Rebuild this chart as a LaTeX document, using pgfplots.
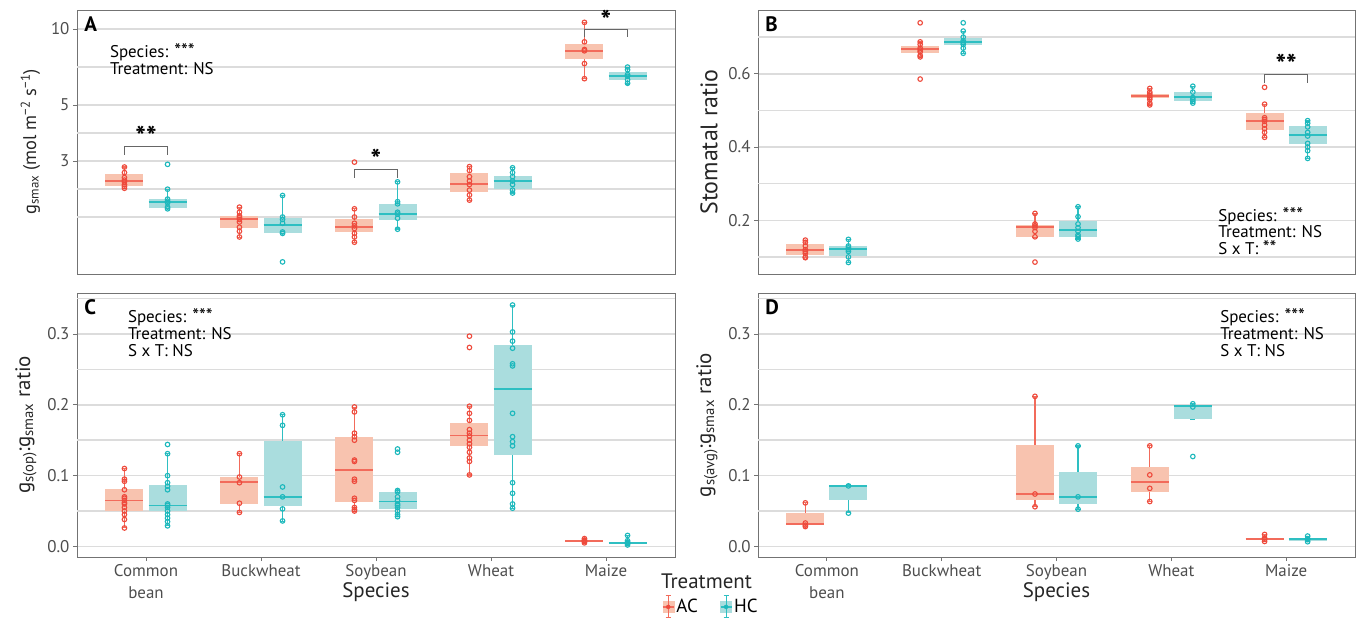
\documentclass[border=0pt]{standalone}
\usepackage{fontspec}
\setmainfont{PT Sans}
\usepackage{pgfplots}
\pgfplotsset{compat=1.18}
\usepgfplotslibrary{statistics}

\definecolor{ACline}{HTML}{F26B5B}
\definecolor{ACpt}{HTML}{EE4A3C}
\definecolor{ACfill}{HTML}{F8C3AF}
\definecolor{HCline}{HTML}{2EBFC2}
\definecolor{HCpt}{HTML}{1CB8BC}
\definecolor{HCfill}{HTML}{AADDDE}
\definecolor{gridc}{HTML}{DCDCDC}
\definecolor{tickc}{HTML}{4D4D4D}

\newcommand{\tickfont}{\fontsize{17}{21.5}\selectfont}
\newcommand{\labfont}{\fontsize{21}{24}\selectfont}
\newcommand{\annofont}{\fontsize{17}{17}\selectfont}
\newcommand{\letterfont}{\fontsize{21}{24}\selectfont\bfseries}
\newcommand{\starfont}{\fontsize{28}{30}\selectfont\bfseries}
\newcommand{\stars}[1]{{\fontsize{19.5}{17}\selectfont #1}}

\pgfplotsset{
  panel/.style={
    scale only axis, width=598bp, height=264bp, anchor=north west,
    xmin=0.4, xmax=5.6,
    axis line style={draw=black!55, line width=0.8bp},
    ymajorgrids,
    major grid style={gridc, line width=1.5bp},
    tick style={black!55, line width=0.8bp},
    major tick length=4bp, minor tick length=0pt,
    tick align=outside, ytick pos=left, xtick pos=bottom,
    ticklabel style={font=\tickfont, text=tickc},
    /pgf/number format/assume math mode=true,
    label style={font=\labfont, text=black!85},
    extra y tick labels={},
    extra y tick style={major tick length=0pt, grid=major},
    boxplot/draw direction=y,
    clip=false,
  },
  noxlab/.style={xtick=\empty},
  withxlab/.style={xtick={1,2,3,4,5},
    xticklabels={{Common\\bean},Buckwheat,Soybean,Wheat,Maize},
    xticklabel style={align=center},
    xlabel={Species},
    xlabel style={at={(axis description cs:0.5,0)}, anchor=center, yshift=-35bp, font=\labfont}},
  ratioax/.style={ymin=-0.015, ymax=0.358, ytick={0,0.1,0.2,0.3},
    extra y ticks={0.05,0.15,0.25,0.35},
    yticklabel style={/pgf/number format/.cd, fixed, fixed zerofill, precision=1}},
  ACbox/.style={draw=ACline, line width=1.1bp,
    boxplot/box extend=0.33, boxplot/whisker extend=0.045,
    boxplot/every box/.style={draw=none, fill=ACfill},
    boxplot/every median/.style={draw=ACline, line width=1.8bp},
    boxplot/every whisker/.style={draw=ACline, line width=1.1bp}},
  HCbox/.style={draw=HCline, line width=1.1bp,
    boxplot/box extend=0.33, boxplot/whisker extend=0.045,
    boxplot/every box/.style={draw=none, fill=HCfill},
    boxplot/every median/.style={draw=HCline, line width=1.8bp},
    boxplot/every whisker/.style={draw=HCline, line width=1.1bp}},
  ACpts/.style={only marks, mark=o, mark size=2.3bp, ACpt, line width=1.1bp},
  HCpts/.style={only marks, mark=o, mark size=2.3bp, HCpt, line width=1.1bp},
}
\newcommand{\bx}[7]{\addplot[#7, boxplot prepared={draw position=#1, lower whisker=#2, lower quartile=#3, median=#4, upper quartile=#5, upper whisker=#6}] coordinates {};}

\begin{document}
\begin{tikzpicture}
\path[use as bounding box] (0bp,0bp) rectangle (1357bp,-620bp);

% ---------------- Panel A ----------------
\begin{axis}[panel, noxlab, at={(77bp,-10bp)},
  ymode=log, ymin=1.07, ymax=11.9, ytick={3,5,10}, yticklabels={3,5,10},
  extra y ticks={1.80,2.32,3.87,7.07},
  ylabel={g\textsubscript{smax} (mol m\textsuperscript{−2} s\textsuperscript{−1})},
  ylabel style={font=\fontsize{18.5}{21}\selectfont}]
\bx{0.8125}{2.34}{2.39}{2.50}{2.666}{2.84}{ACbox}
\bx{1.1875}{1.94}{1.955}{2.066}{2.13}{2.32}{HCbox}
\bx{1.8125}{1.496}{1.633}{1.764}{1.823}{1.967}{ACbox}
\bx{2.1875}{1.552}{1.552}{1.674}{1.789}{2.194}{HCbox}
\bx{2.8125}{1.43}{1.574}{1.644}{1.768}{1.942}{ACbox}
\bx{3.1875}{1.614}{1.748}{1.856}{2.03}{2.48}{HCbox}
\bx{3.8125}{2.10}{2.262}{2.426}{2.70}{2.85}{ACbox}
\bx{4.1875}{2.24}{2.317}{2.50}{2.617}{2.82}{HCbox}
\bx{4.8125}{6.36}{7.586}{8.205}{8.746}{10.63}{ACbox}
\bx{5.1875}{6.06}{6.28}{6.515}{6.755}{7.07}{HCbox}
\addplot[ACpts] coordinates {(0.8125,2.84) (0.8125,2.70) (0.8125,2.58) (0.8125,2.52) (0.8125,2.48) (0.8125,2.42) (0.8125,2.38) (0.8125,2.34)
 (1.8125,1.97) (1.8125,1.88) (1.8125,1.82) (1.8125,1.79) (1.8125,1.76) (1.8125,1.72) (1.8125,1.64) (1.8125,1.58) (1.8125,1.50)
 (2.8125,2.97) (2.8125,1.94) (2.8125,1.80) (2.8125,1.70) (2.8125,1.66) (2.8125,1.62) (2.8125,1.55) (2.8125,1.50) (2.8125,1.43)
 (3.8125,2.85) (3.8125,2.75) (3.8125,2.60) (3.8125,2.50) (3.8125,2.42) (3.8125,2.30) (3.8125,2.20) (3.8125,2.10)
 (4.8125,10.63) (4.8125,8.9) (4.8125,8.3) (4.8125,8.2) (4.8125,7.3) (4.8125,6.36)};
\addplot[HCpts] coordinates {(1.1875,2.91) (1.1875,2.32) (1.1875,2.12) (1.1875,2.08) (1.1875,2.05) (1.1875,1.97) (1.1875,1.94)
 (2.1875,2.19) (2.1875,1.80) (2.1875,1.76) (2.1875,1.70) (2.1875,1.57) (2.1875,1.55) (2.1875,1.195)
 (3.1875,2.48) (3.1875,2.07) (3.1875,2.03) (3.1875,1.88) (3.1875,1.85) (3.1875,1.78) (3.1875,1.61)
 (4.1875,2.82) (4.1875,2.70) (4.1875,2.60) (4.1875,2.50) (4.1875,2.42) (4.1875,2.30) (4.1875,2.24)
 (5.1875,7.07) (5.1875,6.9) (5.1875,6.6) (5.1875,6.5) (5.1875,6.3) (5.1875,6.1)};
\draw[black!60, line width=1bp] (axis cs:0.8125,3.17) -- (axis cs:0.8125,3.41) -- (axis cs:1.1875,3.41) -- (axis cs:1.1875,3.17);
\node[font=\starfont, anchor=base, yshift=0bp] at (axis cs:1,3.41) {**};
\draw[black!60, line width=1bp] (axis cs:2.8125,2.57) -- (axis cs:2.8125,2.765) -- (axis cs:3.1875,2.765) -- (axis cs:3.1875,2.57);
\node[font=\starfont, anchor=base, yshift=0bp] at (axis cs:3,2.765) {*};
\draw[black!60, line width=1bp] (axis cs:4.8125,9.32) -- (axis cs:4.8125,10) -- (axis cs:5.1875,10) -- (axis cs:5.1875,9.32);
\node[font=\starfont, anchor=base, yshift=-1.5bp] at (axis cs:5,10) {*};
\node[anchor=north west, align=left, font=\annofont, inner sep=0pt] at (axis description cs:0.055,0.875) {Species: \stars{***}\\Treatment: NS};
\node[anchor=north west, font=\letterfont, inner sep=0pt] at (axis description cs:0.012,0.977) {A};
\end{axis}

% ---------------- Panel B ----------------
\begin{axis}[panel, noxlab, at={(758bp,-10bp)}, width=597bp,
  ymin=0.0535, ymax=0.774, ytick={0.2,0.4,0.6}, extra y ticks={0.1,0.3,0.5,0.7},
  yticklabel style={/pgf/number format/.cd, fixed, fixed zerofill, precision=1},
  ylabel={Stomatal ratio}, ylabel style={font=\fontsize{24}{26}\selectfont}]
\bx{0.8125}{0.098}{0.1053}{0.118}{0.1345}{0.146}{ACbox}
\bx{1.1875}{0.0854}{0.1018}{0.1217}{0.1307}{0.148}{HCbox}
\bx{1.8125}{0.6464}{0.6557}{0.6666}{0.6764}{0.6873}{ACbox}
\bx{2.1875}{0.6557}{0.6783}{0.6873}{0.698}{0.7165}{HCbox}
\bx{2.8125}{0.1536}{0.1536}{0.1825}{0.188}{0.219}{ACbox}
\bx{3.1875}{0.149}{0.1553}{0.1735}{0.199}{0.237}{HCbox}
\bx{3.8125}{0.5146}{0.5337}{0.54}{0.5446}{0.5602}{ACbox}
\bx{4.1875}{0.5192}{0.5263}{0.5356}{0.5492}{0.5664}{HCbox}
\bx{4.8125}{0.4265}{0.4464}{0.47}{0.492}{0.5173}{ACbox}
\bx{5.1875}{0.3692}{0.4074}{0.4336}{0.4573}{0.4718}{HCbox}
\addplot[ACpts] coordinates {(0.8125,0.146) (0.8125,0.14) (0.8125,0.13) (0.8125,0.12) (0.8125,0.115) (0.8125,0.11) (0.8125,0.10) (0.8125,0.098)
 (1.8125,0.739) (1.8125,0.687) (1.8125,0.68) (1.8125,0.67) (1.8125,0.665) (1.8125,0.66) (1.8125,0.65) (1.8125,0.646) (1.8125,0.5855)
 (2.8125,0.219) (2.8125,0.19) (2.8125,0.185) (2.8125,0.18) (2.8125,0.17) (2.8125,0.155) (2.8125,0.086)
 (3.8125,0.56) (3.8125,0.55) (3.8125,0.545) (3.8125,0.54) (3.8125,0.535) (3.8125,0.53) (3.8125,0.52) (3.8125,0.515)
 (4.8125,0.563) (4.8125,0.517) (4.8125,0.48) (4.8125,0.475) (4.8125,0.47) (4.8125,0.46) (4.8125,0.45) (4.8125,0.44) (4.8125,0.4265)};
\addplot[HCpts] coordinates {(1.1875,0.148) (1.1875,0.13) (1.1875,0.125) (1.1875,0.12) (1.1875,0.115) (1.1875,0.10) (1.1875,0.085)
 (2.1875,0.739) (2.1875,0.7165) (2.1875,0.70) (2.1875,0.69) (2.1875,0.685) (2.1875,0.68) (2.1875,0.67) (2.1875,0.656)
 (3.1875,0.237) (3.1875,0.21) (3.1875,0.19) (3.1875,0.18) (3.1875,0.17) (3.1875,0.16) (3.1875,0.155) (3.1875,0.149)
 (4.1875,0.566) (4.1875,0.55) (4.1875,0.535) (4.1875,0.53) (4.1875,0.525) (4.1875,0.52)
 (5.1875,0.472) (5.1875,0.465) (5.1875,0.455) (5.1875,0.44) (5.1875,0.43) (5.1875,0.41) (5.1875,0.40) (5.1875,0.39) (5.1875,0.369)};
\draw[black!60, line width=1bp] (axis cs:4.8125,0.574) -- (axis cs:4.8125,0.597) -- (axis cs:5.1875,0.597) -- (axis cs:5.1875,0.574);
\node[font=\starfont, anchor=base, yshift=0bp] at (axis cs:5,0.597) {**};
\node[anchor=north west, align=left, font=\annofont, inner sep=0pt] at (axis description cs:0.771,0.254) {Species: \stars{***}\\Treatment: NS\\S x T: \stars{**}};
\node[anchor=north west, font=\letterfont, inner sep=0pt] at (axis description cs:0.012,0.977) {B};
\end{axis}

% ---------------- Panel C ----------------
\begin{axis}[panel, withxlab, ratioax, at={(77bp,-293bp)},
  ylabel={g\textsubscript{s(op)}:g\textsubscript{smax} ratio},
  legend style={at={(axis description cs:0.978,-0.189)}, anchor=west, draw=none, fill=none,
    inner sep=0pt, font=\fontsize{19}{21}\selectfont,
    /tikz/every even column/.append style={column sep=20bp}},
  legend columns=2]
\addlegendimage{legend image code/.code={
   \fill[ACfill] (0bp,-5.5bp) rectangle (11bp,5.5bp);
   \draw[ACline,line width=1bp] (5.5bp,-11bp)--(5.5bp,11bp) (3bp,11bp)--(8bp,11bp) (3bp,-11bp)--(8bp,-11bp);
   \draw[ACline,line width=1.4bp] (0bp,0bp)--(11bp,0bp);
   \fill[ACpt] (5.5bp,0bp) circle (2bp);}}
\addlegendentry{AC}
\addlegendimage{legend image code/.code={
   \fill[HCfill] (0bp,-5.5bp) rectangle (11bp,5.5bp);
   \draw[HCline,line width=1bp] (5.5bp,-11bp)--(5.5bp,11bp) (3bp,11bp)--(8bp,11bp) (3bp,-11bp)--(8bp,-11bp);
   \draw[HCline,line width=1.4bp] (0bp,0bp)--(11bp,0bp);
   \fill[HCpt] (5.5bp,0bp) circle (2bp);}}
\addlegendentry{HC}
\bx{0.8125}{0.0263}{0.0498}{0.0648}{0.0812}{0.1099}{ACbox}
\bx{1.1875}{0.0291}{0.0498}{0.0577}{0.0864}{0.1315}{HCbox}
\bx{1.8125}{0.0484}{0.0601}{0.0906}{0.0977}{0.1315}{ACbox}
\bx{2.1875}{0.0357}{0.0568}{0.070}{0.1493}{0.186}{HCbox}
\bx{2.8125}{0.0498}{0.0624}{0.108}{0.1549}{0.1967}{ACbox}
\bx{3.1875}{0.0423}{0.053}{0.0634}{0.077}{0.0789}{HCbox}
\bx{3.8125}{0.1009}{0.1418}{0.1568}{0.1746}{0.1977}{ACbox}
\bx{4.1875}{0.0535}{0.1291}{0.2225}{0.2845}{0.3408}{HCbox}
\bx{4.8125}{0.005}{0.0065}{0.008}{0.0095}{0.011}{ACbox}
\bx{5.1875}{0.0015}{0.0028}{0.0047}{0.0066}{0.0155}{HCbox}
\addplot[ACpts] coordinates {(0.8125,0.11) (0.8125,0.095) (0.8125,0.092) (0.8125,0.08) (0.8125,0.07) (0.8125,0.068) (0.8125,0.065) (0.8125,0.062) (0.8125,0.06) (0.8125,0.055) (0.8125,0.05) (0.8125,0.045) (0.8125,0.038) (0.8125,0.026)
 (1.8125,0.131) (1.8125,0.098) (1.8125,0.09) (1.8125,0.061) (1.8125,0.048)
 (2.8125,0.197) (2.8125,0.19) (2.8125,0.16) (2.8125,0.155) (2.8125,0.15) (2.8125,0.122) (2.8125,0.12) (2.8125,0.095) (2.8125,0.092) (2.8125,0.068) (2.8125,0.065) (2.8125,0.055) (2.8125,0.052) (2.8125,0.05)
 (3.8125,0.297) (3.8125,0.281) (3.8125,0.198) (3.8125,0.188) (3.8125,0.178) (3.8125,0.165) (3.8125,0.16) (3.8125,0.156) (3.8125,0.15) (3.8125,0.145) (3.8125,0.14) (3.8125,0.133) (3.8125,0.125) (3.8125,0.12) (3.8125,0.101)
 (4.8125,0.011) (4.8125,0.009) (4.8125,0.008) (4.8125,0.007) (4.8125,0.005)};
\addplot[HCpts] coordinates {(1.1875,0.144) (1.1875,0.131) (1.1875,0.10) (1.1875,0.09) (1.1875,0.085) (1.1875,0.08) (1.1875,0.06) (1.1875,0.058) (1.1875,0.055) (1.1875,0.05) (1.1875,0.045) (1.1875,0.04) (1.1875,0.035) (1.1875,0.029)
 (2.1875,0.186) (2.1875,0.171) (2.1875,0.084) (2.1875,0.07) (2.1875,0.053) (2.1875,0.036)
 (3.1875,0.1376) (3.1875,0.133) (3.1875,0.079) (3.1875,0.077) (3.1875,0.07) (3.1875,0.065) (3.1875,0.06) (3.1875,0.058) (3.1875,0.055) (3.1875,0.05) (3.1875,0.045) (3.1875,0.042)
 (4.1875,0.341) (4.1875,0.303) (4.1875,0.29) (4.1875,0.28) (4.1875,0.258) (4.1875,0.255) (4.1875,0.188) (4.1875,0.155) (4.1875,0.148) (4.1875,0.142) (4.1875,0.09) (4.1875,0.075) (4.1875,0.06) (4.1875,0.054)
 (5.1875,0.0155) (5.1875,0.008) (5.1875,0.006) (5.1875,0.005) (5.1875,0.004) (5.1875,0.002)};
\node[anchor=north west, align=left, font=\annofont, inner sep=0pt] at (axis description cs:0.085,0.943) {Species: \stars{***}\\Treatment: NS\\S x T: NS};
\node[anchor=north west, font=\letterfont, inner sep=0pt] at (axis description cs:0.012,0.977) {C};
\end{axis}

% ---------------- Panel D ----------------
\begin{axis}[panel, withxlab, ratioax, at={(758bp,-293bp)}, width=597bp,
  ylabel={g\textsubscript{s(avg)}:g\textsubscript{smax} ratio}]
\bx{0.8125}{0.0277}{0.030}{0.0319}{0.0465}{0.0615}{ACbox}
\bx{1.1875}{0.0474}{0.0657}{0.0854}{0.0869}{0.0869}{HCbox}
\bx{2.8125}{0.0563}{0.0653}{0.0742}{0.1437}{0.2117}{ACbox}
\bx{3.1875}{0.0526}{0.0606}{0.070}{0.1052}{0.1418}{HCbox}
\bx{3.8125}{0.0634}{0.0775}{0.0915}{0.1117}{0.1423}{ACbox}
\bx{4.1875}{0.1798}{0.1798}{0.1986}{0.2}{0.2015}{HCbox}
\bx{4.8125}{0.007}{0.0085}{0.0108}{0.012}{0.0169}{ACbox}
\bx{5.1875}{0.0066}{0.0075}{0.0099}{0.0113}{0.0146}{HCbox}
\addplot[ACpts] coordinates {(0.8125,0.0615) (0.8125,0.033) (0.8125,0.030) (0.8125,0.028)
 (2.8125,0.212) (2.8125,0.074) (2.8125,0.056)
 (3.8125,0.142) (3.8125,0.101) (3.8125,0.082) (3.8125,0.0634)
 (4.8125,0.0169) (4.8125,0.012) (4.8125,0.010) (4.8125,0.007)};
\addplot[HCpts] coordinates {(1.1875,0.0855) (1.1875,0.047)
 (3.1875,0.142) (3.1875,0.070) (3.1875,0.0526)
 (4.1875,0.2015) (4.1875,0.197) (4.1875,0.127)
 (5.1875,0.0146) (5.1875,0.011) (5.1875,0.0095) (5.1875,0.0066)};
\node[anchor=north west, align=left, font=\annofont, inner sep=0pt] at (axis description cs:0.774,0.943) {Species: \stars{***}\\Treatment: NS\\S x T: NS};
\node[anchor=north west, font=\letterfont, inner sep=0pt] at (axis description cs:0.012,0.977) {D};
\end{axis}

\node[anchor=west, font=\fontsize{21}{24}\selectfont, text=black!85, inner sep=0pt] at (661bp,-581bp) {Treatment};
\end{tikzpicture}
\end{document}
